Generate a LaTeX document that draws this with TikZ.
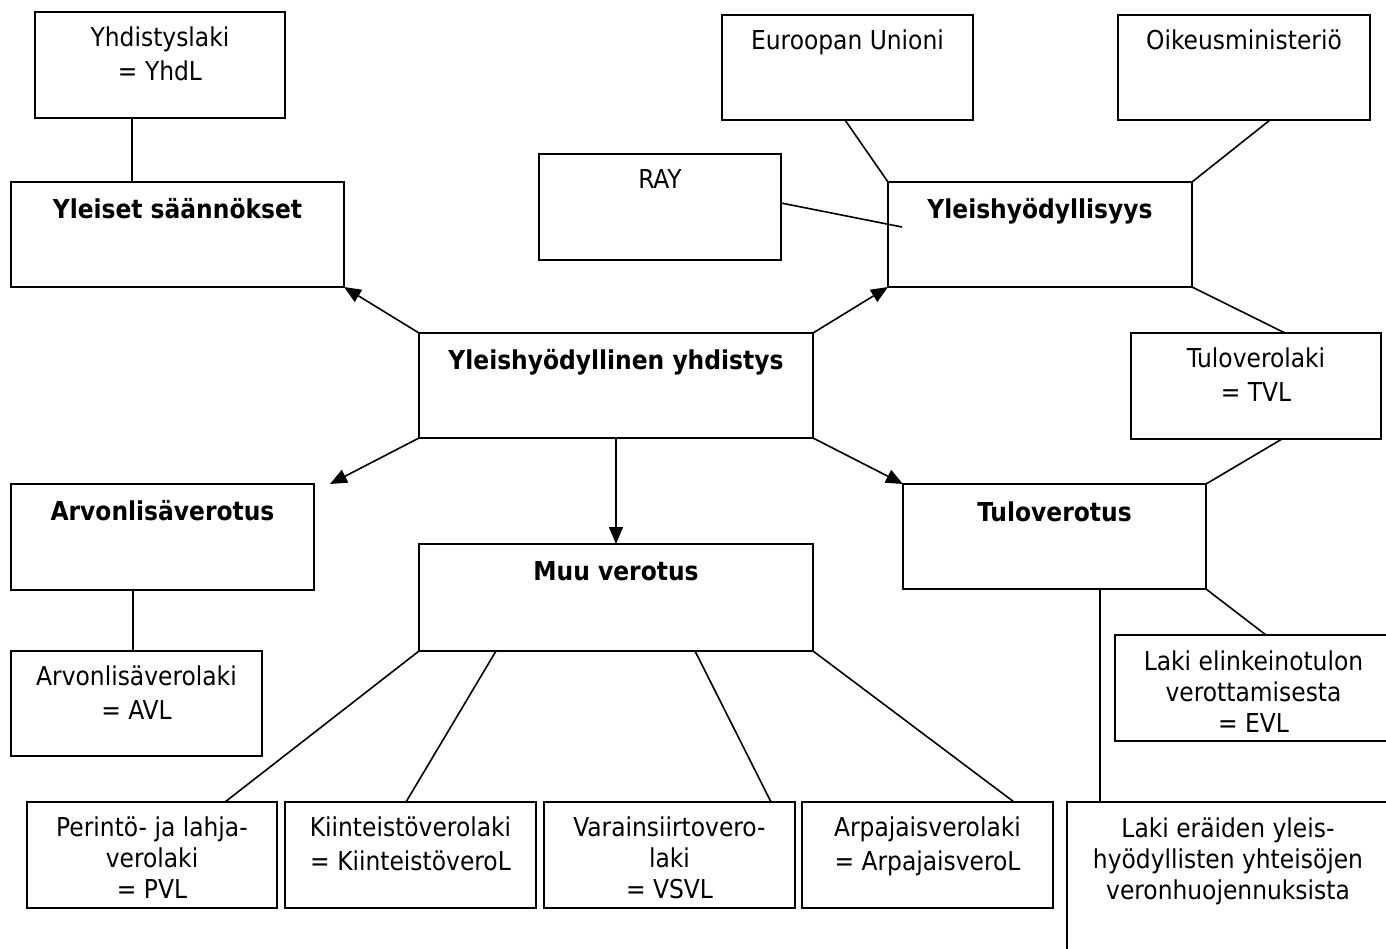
\documentclass[tikz,border=0pt]{standalone}
\usepackage{fontspec}
\setmainfont{DejaVu Sans Condensed}
\usetikzlibrary{arrows.meta,calc}
\newcommand\drawbox[7]{%
  \node[box, minimum width={(#4-#2)*0.5pt}, minimum height={(#5-#3)*0.5pt}] (#1) at (#2,#3) {};
  \node[lbl] (#1t) at ($(#1.north)+(0,#7)$) {\begin{tabular}[t]{@{}c@{}}#6\end{tabular}};
}
\begin{document}
\begin{tikzpicture}[x=0.5pt,y=-0.5pt,
  box/.style={draw, line width=1pt, rectangle, inner sep=0pt, outer sep=0pt, anchor=north west},
  lbl/.style={anchor=base, inner sep=0pt, font=\fontsize{13}{15.5}\selectfont},
  conn/.style={line width=0.8pt},
  arr/.style={conn, -{Triangle[length=8.5pt,width=7pt]}}]
\useasboundingbox (0,0) rectangle (1386,948);
\clip (0,0) rectangle (1386,948);
\fill[white] (0,0) rectangle (1386,948);
% boxes
\drawbox{yhd}{35}{12}{285}{118}{Yhdistyslaki\\[1.5pt]= YhdL}{34}
\drawbox{yle}{11}{182}{344}{287}{\textbf{Yleiset säännökset}}{36}
\drawbox{eu}{722}{15}{973}{120}{Euroopan Unioni}{34}
\drawbox{oik}{1118}{15}{1370}{120}{Oikeusministeriö}{34}
\drawbox{ray}{539}{154}{781}{260}{RAY}{34}
\drawbox{yh}{888}{182}{1192}{287}{\textbf{Yleishyödyllisyys}}{36}
\drawbox{main}{419}{333}{813}{438}{\textbf{Yleishyödyllinen yhdistys}}{36}
\drawbox{tvl}{1131}{333}{1381}{439}{Tuloverolaki\\[1.5pt]= TVL}{34}
\drawbox{alv}{11}{484}{314}{590}{\textbf{Arvonlisäverotus}}{36}
\drawbox{muu}{419}{544}{813}{651}{\textbf{Muu verotus}}{36}
\drawbox{tulo}{903}{484}{1206}{589}{\textbf{Tuloverotus}}{37}
\drawbox{avl}{11}{651}{262}{756}{Arvonlisäverolaki\\[1.5pt]= AVL}{34}
\drawbox{evl}{1115}{635}{1392}{741}{Laki elinkeinotulon\\verottamisesta\\= EVL}{35}
\drawbox{era}{1067}{802}{1389}{980}{Laki eräiden yleis-\\hyödyllisten yhteisöjen\\veronhuojennuksista}{35}
\drawbox{pvl}{27}{802}{277}{908}{Perintö- ja lahja-\\verolaki\\= PVL}{34}
\drawbox{kvl}{285}{802}{536}{908}{Kiinteistöverolaki\\[1.5pt]= KiinteistöveroL}{34}
\drawbox{vsvl}{544}{802}{795}{908}{Varainsiirtovero-\\laki\\= VSVL}{34}
\drawbox{apvl}{802}{802}{1053}{908}{Arpajaisverolaki\\[1.5pt]= ArpajaisveroL}{34}
% connectors
\draw[conn] ($(yhd.south west)+(97,0)$) -- ($(yle.north west)+(121,0)$);
\draw[arr] (main.north west) -- (yle.south east);
\draw[arr] (main.north east) -- (yh.south west);
\draw[conn] ($(eu.south west)+(123,0)$) -- (yh.north west);
\draw[conn] ($(oik.south west)+(152,0)$) -- (yh.north east);
\draw[conn] ($(ray.north east)+(0,49)$) -- ($(yh.north west)+(14,45)$);
\draw[conn] (yh.south east) -- ($(tvl.north west)+(154,0)$);
\draw[conn] ($(tvl.south west)+(151,0)$) -- (tulo.north east);
\draw[arr] (main.south west) -- ($(alv.north east)+(16,0)$);
\draw[arr] (main.south) -- (muu.north);
\draw[arr] (main.south east) -- (tulo.north west);
\draw[conn] ($(alv.south west)+(122,0)$) -- ($(avl.north west)+(122,0)$);
\draw[conn] (tulo.south east) -- ($(evl.north west)+(151,0)$);
\draw[conn] ($(tulo.south west)+(197,0)$) -- ($(era.north west)+(33,0)$);
\draw[conn] (muu.south west) -- ($(pvl.north west)+(198,0)$);
\draw[conn] ($(muu.south west)+(77,0)$) -- ($(kvl.north west)+(121,0)$);
\draw[conn] ($(muu.south west)+(276,0)$) -- ($(vsvl.north west)+(227,0)$);
\draw[conn] (muu.south east) -- ($(apvl.north west)+(212,0)$);
\end{tikzpicture}
\end{document}
